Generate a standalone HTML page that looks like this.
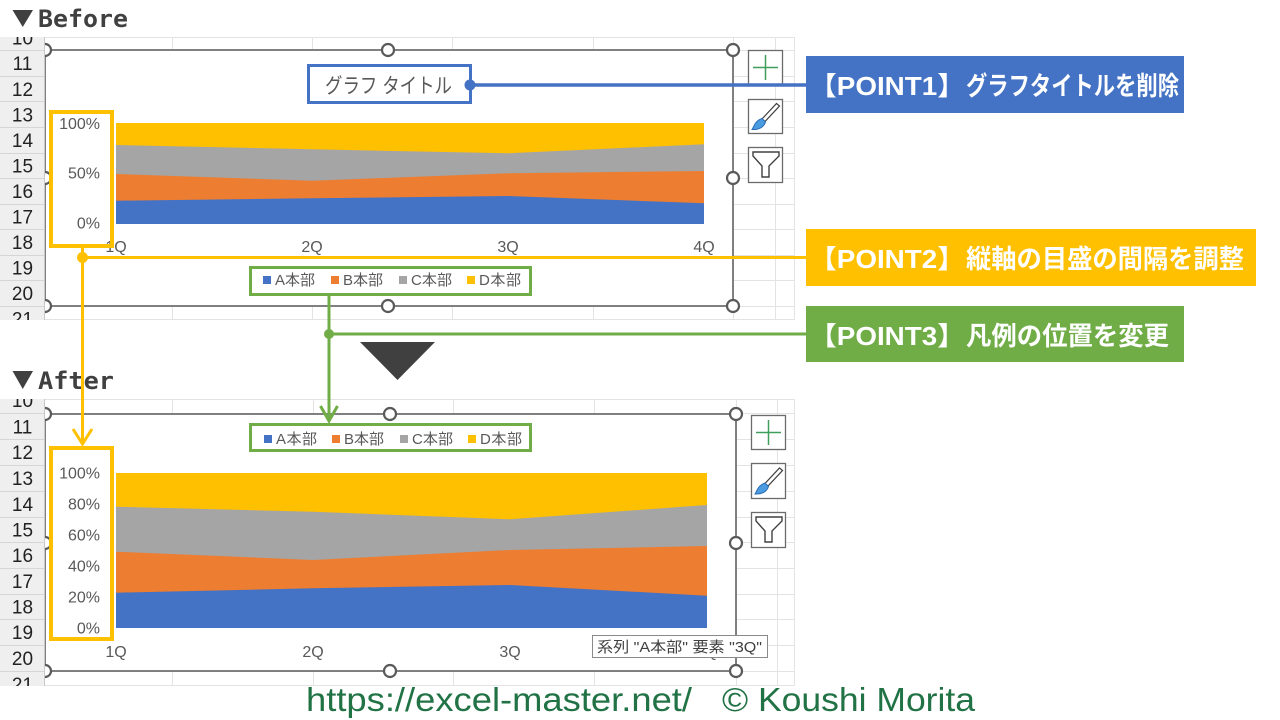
<!DOCTYPE html>
<html><head><meta charset="utf-8">
<style>
html,body{margin:0;padding:0;background:#fff;}
svg{display:block;}
.rn{font-family:"Liberation Sans","Noto Sans CJK JP",sans-serif;font-size:19px;fill:#222;text-anchor:middle;}
.ax{font-family:"Liberation Sans","Noto Sans CJK JP",sans-serif;font-size:16px;fill:#595959;}
.lg{font-family:"Liberation Sans","Noto Sans CJK JP",sans-serif;font-size:15px;fill:#595959;}
.pt{font-family:"Liberation Sans","Noto Sans CJK JP",sans-serif;font-size:26px;font-weight:bold;fill:#fff;}
.hd{font-family:"DejaVu Sans Mono","Liberation Mono",monospace;font-size:24px;font-weight:bold;fill:#404040;}
</style></head><body>
<svg width="1280" height="720" viewBox="0 0 1280 720" xmlns="http://www.w3.org/2000/svg">
<defs>
<clipPath id="cb"><rect x="0" y="37" width="796" height="283"/></clipPath>
<clipPath id="ca"><rect x="0" y="399" width="796" height="287"/></clipPath>
</defs>
<rect width="1280" height="720" fill="#fff"/>

<!-- Headers -->
<polygon points="12.5,10 33,10 22.75,27" fill="#404040"/>
<text class="hd" x="38" y="27" textLength="90" lengthAdjust="spacingAndGlyphs">Before</text>
<polygon points="12.5,371 33,371 22.75,389" fill="#404040"/>
<text class="hd" x="38" y="389" textLength="76" lengthAdjust="spacingAndGlyphs">After</text>
<polygon points="360,342 435,342 397.5,380" fill="#404040"/>

<!-- ===== BEFORE SHEET ===== -->
<g clip-path="url(#cb)">
<rect x="0" y="37" width="796" height="283" fill="#fff"/>
<g stroke="#e3e3e3" stroke-width="1">
<line x1="45" y1="50.5" x2="795" y2="50.5"/><line x1="45" y1="76.5" x2="795" y2="76.5"/>
<line x1="45" y1="101.5" x2="795" y2="101.5"/><line x1="45" y1="127.5" x2="795" y2="127.5"/>
<line x1="45" y1="153.5" x2="795" y2="153.5"/><line x1="45" y1="178.5" x2="795" y2="178.5"/>
<line x1="45" y1="204.5" x2="795" y2="204.5"/><line x1="45" y1="229.5" x2="795" y2="229.5"/>
<line x1="45" y1="255.5" x2="795" y2="255.5"/><line x1="45" y1="280.5" x2="795" y2="280.5"/>
<line x1="45" y1="306.5" x2="795" y2="306.5"/>
<line x1="172.5" y1="37" x2="172.5" y2="320"/><line x1="312.5" y1="37" x2="312.5" y2="320"/>
<line x1="452.5" y1="37" x2="452.5" y2="320"/><line x1="593.5" y1="37" x2="593.5" y2="320"/>
<line x1="733.5" y1="37" x2="733.5" y2="320"/><line x1="775.5" y1="37" x2="775.5" y2="320"/>
<line x1="794.5" y1="37" x2="794.5" y2="320"/>
<line x1="0" y1="37.5" x2="795" y2="37.5"/><line x1="0" y1="319.5" x2="795" y2="319.5"/>
</g>
<!-- chart -->
<rect x="45" y="50" width="688" height="256" fill="#fff" stroke="#737373" stroke-width="1.8"/>
<rect x="116" y="123" width="588" height="101" fill="#ffc000"/>
<polygon points="116,145 312,149.3 508,153.3 704,144.3 704,224 116,224" fill="#a5a5a5"/>
<polygon points="116,174 312,180.7 508,173.3 704,171 704,224 116,224" fill="#ed7d31"/>
<polygon points="116,200.7 312,198.3 508,196 704,203.3 704,224 116,224" fill="#4472c4"/>
<text class="ax" x="100" y="129" text-anchor="end">100%</text>
<text class="ax" x="100" y="178.5" text-anchor="end">50%</text>
<text class="ax" x="100" y="228.5" text-anchor="end">0%</text>
<text class="ax" x="116" y="252" text-anchor="middle">1Q</text>
<text class="ax" x="312" y="252" text-anchor="middle">2Q</text>
<text class="ax" x="508" y="252" text-anchor="middle">3Q</text>
<text class="ax" x="704" y="252" text-anchor="middle">4Q</text>
<text x="325" y="93" textLength="127" lengthAdjust="spacingAndGlyphs" style="font-family:'Liberation Sans','Noto Sans CJK JP',sans-serif;font-size:21px;fill:#595959;white-space:pre;">グラフ タイトル</text>
<!-- legend -->
<rect x="263" y="276" width="8" height="8" fill="#4472c4"/><text class="lg" x="275" y="285" textLength="40">A本部</text>
<rect x="331" y="276" width="8" height="8" fill="#ed7d31"/><text class="lg" x="343" y="285" textLength="40">B本部</text>
<rect x="399" y="276" width="8" height="8" fill="#a5a5a5"/><text class="lg" x="411" y="285" textLength="41">C本部</text>
<rect x="467" y="276" width="8" height="8" fill="#ffc000"/><text class="lg" x="479" y="285" textLength="42">D本部</text>
<!-- handles -->
<g fill="#fff" stroke="#5a5a5a" stroke-width="2.2">
<circle cx="45" cy="50" r="6"/><circle cx="388" cy="50" r="6"/><circle cx="733" cy="50" r="6"/>
<circle cx="733" cy="178" r="6"/><circle cx="733" cy="306" r="6"/><circle cx="388" cy="306" r="6"/>
<circle cx="45" cy="306" r="6"/><circle cx="45" cy="178" r="6"/>
</g>
<!-- icons -->
<g fill="#fff" stroke="#6b6b6b" stroke-width="1.3">
<rect x="748.5" y="50.5" width="34" height="34"/>
<rect x="748.5" y="99.5" width="34" height="34"/>
<rect x="748.5" y="147.5" width="34" height="35"/>
</g>
<g stroke="#3f9f5a" stroke-width="1.5"><line x1="753" y1="67.5" x2="778" y2="67.5"/><line x1="765.5" y1="55" x2="765.5" y2="80"/></g>
<path d="M776.5,103.5 L779.5,106 L765,121.5 L762,119 Z" fill="#fff" stroke="#404040" stroke-width="1.2"/>
<path d="M762,118.5 L765.5,122 C764,127 759,130 752,129.5 C754,127 754.5,121 762,118.5 Z" fill="#4a9be0" stroke="#2a6db5" stroke-width="1"/>
<path d="M753,152 L779,152 L779,156 L769,166 L769,177 L762,177 L762,166 L753,156 Z" fill="#fff" stroke="#404040" stroke-width="1.4"/>
<!-- row header -->
<rect x="0" y="37" width="44.5" height="283" fill="#efefef"/>
<line x1="44.5" y1="37" x2="44.5" y2="320" stroke="#c8c8c8"/>
<g stroke="#d6d6d6" stroke-width="1">
<line x1="0" y1="50.5" x2="44" y2="50.5"/><line x1="0" y1="76.5" x2="44" y2="76.5"/>
<line x1="0" y1="101.5" x2="44" y2="101.5"/><line x1="0" y1="127.5" x2="44" y2="127.5"/>
<line x1="0" y1="153.5" x2="44" y2="153.5"/><line x1="0" y1="178.5" x2="44" y2="178.5"/>
<line x1="0" y1="204.5" x2="44" y2="204.5"/><line x1="0" y1="229.5" x2="44" y2="229.5"/>
<line x1="0" y1="255.5" x2="44" y2="255.5"/><line x1="0" y1="280.5" x2="44" y2="280.5"/>
<line x1="0" y1="306.5" x2="44" y2="306.5"/>
</g>
<text class="rn" x="22.5" y="44.3">10</text><text class="rn" x="22.5" y="70">11</text>
<text class="rn" x="22.5" y="96">12</text><text class="rn" x="22.5" y="121.4">13</text>
<text class="rn" x="22.5" y="147">14</text><text class="rn" x="22.5" y="172.5">15</text>
<text class="rn" x="22.5" y="198">16</text><text class="rn" x="22.5" y="223.5">17</text>
<text class="rn" x="22.5" y="249">18</text><text class="rn" x="22.5" y="274.5">19</text>
<text class="rn" x="22.5" y="300">20</text><text class="rn" x="22.5" y="325.5">21</text>
</g>

<!-- ===== AFTER SHEET ===== -->
<g clip-path="url(#ca)">
<rect x="0" y="399" width="796" height="287" fill="#fff"/>
<g stroke="#e3e3e3" stroke-width="1">
<line x1="45" y1="413.5" x2="795" y2="413.5"/><line x1="45" y1="439.5" x2="795" y2="439.5"/>
<line x1="45" y1="465.5" x2="795" y2="465.5"/><line x1="45" y1="491.5" x2="795" y2="491.5"/>
<line x1="45" y1="517.5" x2="795" y2="517.5"/><line x1="45" y1="542.5" x2="795" y2="542.5"/>
<line x1="45" y1="568.5" x2="795" y2="568.5"/><line x1="45" y1="594.5" x2="795" y2="594.5"/>
<line x1="45" y1="619.5" x2="795" y2="619.5"/><line x1="45" y1="645.5" x2="795" y2="645.5"/>
<line x1="45" y1="671.5" x2="795" y2="671.5"/>
<line x1="172.5" y1="399" x2="172.5" y2="686"/><line x1="313.5" y1="399" x2="313.5" y2="686"/>
<line x1="453.5" y1="399" x2="453.5" y2="686"/><line x1="594.5" y1="399" x2="594.5" y2="686"/>
<line x1="736.5" y1="399" x2="736.5" y2="686"/><line x1="777.5" y1="399" x2="777.5" y2="686"/>
<line x1="794.5" y1="399" x2="794.5" y2="686"/>
<line x1="0" y1="399.5" x2="795" y2="399.5"/><line x1="0" y1="685.5" x2="795" y2="685.5"/>
</g>
<rect x="45" y="414" width="691" height="257" fill="#fff" stroke="#737373" stroke-width="1.8"/>
<rect x="116" y="473" width="591" height="155" fill="#ffc000"/>
<polygon points="116,506.7 313,511.7 510,519.3 707,505 707,628 116,628" fill="#a5a5a5"/>
<polygon points="116,551.7 313,560 510,550 707,546 707,628 116,628" fill="#ed7d31"/>
<polygon points="116,592.7 313,588.3 510,585 707,595.7 707,628 116,628" fill="#4472c4"/>
<text class="ax" x="100" y="478.5" text-anchor="end">100%</text>
<text class="ax" x="100" y="509.5" text-anchor="end">80%</text>
<text class="ax" x="100" y="540.5" text-anchor="end">60%</text>
<text class="ax" x="100" y="571.5" text-anchor="end">40%</text>
<text class="ax" x="100" y="602.5" text-anchor="end">20%</text>
<text class="ax" x="100" y="633.5" text-anchor="end">0%</text>
<text class="ax" x="116" y="657" text-anchor="middle">1Q</text>
<text class="ax" x="313" y="657" text-anchor="middle">2Q</text>
<text class="ax" x="510" y="657" text-anchor="middle">3Q</text>
<text class="ax" x="707" y="657" text-anchor="middle">4Q</text>
<rect x="264" y="435" width="8" height="8" fill="#4472c4"/><text class="lg" x="276" y="444" textLength="41">A本部</text>
<rect x="332" y="435" width="8" height="8" fill="#ed7d31"/><text class="lg" x="344" y="444" textLength="40">B本部</text>
<rect x="400" y="435" width="8" height="8" fill="#a5a5a5"/><text class="lg" x="412" y="444" textLength="41">C本部</text>
<rect x="468" y="435" width="8" height="8" fill="#ffc000"/><text class="lg" x="480" y="444" textLength="42">D本部</text>
<!-- tooltip -->
<rect x="592.5" y="635.5" width="175" height="22" fill="#fff" stroke="#8a8a8a" stroke-width="1"/>
<text x="597" y="652" textLength="165" lengthAdjust="spacingAndGlyphs" style="font-family:'Liberation Sans','Noto Sans CJK JP',sans-serif;font-size:15px;fill:#404040;white-space:pre;">系列 "A本部" 要素 "3Q"</text>
<g fill="#fff" stroke="#5a5a5a" stroke-width="2.2">
<circle cx="45" cy="414" r="6"/><circle cx="390" cy="414" r="6"/><circle cx="736" cy="414" r="6"/>
<circle cx="736" cy="543" r="6"/><circle cx="736" cy="671" r="6"/><circle cx="390" cy="671" r="6"/>
<circle cx="45" cy="671" r="6"/><circle cx="45" cy="543" r="6"/>
</g>
<g fill="#fff" stroke="#6b6b6b" stroke-width="1.3">
<rect x="751.5" y="415.5" width="34" height="34"/>
<rect x="751.5" y="463.5" width="34" height="35"/>
<rect x="751.5" y="512.5" width="34" height="35"/>
</g>
<g stroke="#3f9f5a" stroke-width="1.5"><line x1="756" y1="432.5" x2="781" y2="432.5"/><line x1="768.5" y1="420" x2="768.5" y2="445"/></g>
<path d="M779.5,468 L782.5,470.5 L768,486 L765,483.5 Z" fill="#fff" stroke="#404040" stroke-width="1.2"/>
<path d="M765,483 L768.5,486.5 C767,491.5 762,494.5 755,494 C757,491.5 757.5,485.5 765,483 Z" fill="#4a9be0" stroke="#2a6db5" stroke-width="1"/>
<path d="M756,517 L782,517 L782,521 L772,531 L772,542 L765,542 L765,531 L756,521 Z" fill="#fff" stroke="#404040" stroke-width="1.4"/>
<rect x="0" y="399" width="44.5" height="287" fill="#efefef"/>
<line x1="44.5" y1="399" x2="44.5" y2="686" stroke="#c8c8c8"/>
<g stroke="#d6d6d6" stroke-width="1">
<line x1="0" y1="413.5" x2="44" y2="413.5"/><line x1="0" y1="439.5" x2="44" y2="439.5"/>
<line x1="0" y1="465.5" x2="44" y2="465.5"/><line x1="0" y1="491.5" x2="44" y2="491.5"/>
<line x1="0" y1="517.5" x2="44" y2="517.5"/><line x1="0" y1="542.5" x2="44" y2="542.5"/>
<line x1="0" y1="568.5" x2="44" y2="568.5"/><line x1="0" y1="594.5" x2="44" y2="594.5"/>
<line x1="0" y1="619.5" x2="44" y2="619.5"/><line x1="0" y1="645.5" x2="44" y2="645.5"/>
<line x1="0" y1="671.5" x2="44" y2="671.5"/>
</g>
<text class="rn" x="22.5" y="407">10</text><text class="rn" x="22.5" y="433.5">11</text>
<text class="rn" x="22.5" y="459">12</text><text class="rn" x="22.5" y="485">13</text>
<text class="rn" x="22.5" y="511">14</text><text class="rn" x="22.5" y="536.5">15</text>
<text class="rn" x="22.5" y="562">16</text><text class="rn" x="22.5" y="588">17</text>
<text class="rn" x="22.5" y="613.5">18</text><text class="rn" x="22.5" y="639">19</text>
<text class="rn" x="22.5" y="665">20</text><text class="rn" x="22.5" y="691">21</text>
</g>

<!-- highlight boxes -->
<rect x="308.5" y="65.5" width="162" height="37" fill="none" stroke="#4472c4" stroke-width="3"/>
<rect x="51" y="112" width="61" height="134" fill="none" stroke="#ffc000" stroke-width="4"/>
<rect x="250.5" y="267.5" width="280" height="27" fill="none" stroke="#70ad47" stroke-width="3"/>
<rect x="51" y="448" width="61" height="191" fill="none" stroke="#ffc000" stroke-width="4"/>
<rect x="250.5" y="424.5" width="280" height="26" fill="none" stroke="#70ad47" stroke-width="3"/>

<!-- connectors -->
<line x1="470" y1="85" x2="806" y2="85" stroke="#4472c4" stroke-width="3.5"/>
<circle cx="470" cy="85" r="5.5" fill="#4472c4"/>
<line x1="82.5" y1="257.5" x2="806" y2="257.5" stroke="#ffc000" stroke-width="3"/>
<line x1="82.5" y1="248" x2="82.5" y2="443" stroke="#ffc000" stroke-width="3"/>
<polyline points="73,429 82.5,444 92,429" fill="none" stroke="#ffc000" stroke-width="3"/>
<circle cx="82.5" cy="257.5" r="5.5" fill="#ffc000"/>
<line x1="329" y1="296" x2="329" y2="420" stroke="#70ad47" stroke-width="3"/>
<line x1="329" y1="334" x2="806" y2="334" stroke="#70ad47" stroke-width="3"/>
<polyline points="320.5,406 329,421 337.5,406" fill="none" stroke="#70ad47" stroke-width="3"/>
<circle cx="329" cy="334" r="5" fill="#70ad47"/>

<!-- POINT labels -->
<rect x="806" y="56" width="378" height="57" fill="#4472c4"/>
<text class="pt" x="809" y="95" textLength="156" lengthAdjust="spacingAndGlyphs">【POINT1】</text>
<text class="pt" x="966" y="95" textLength="213" lengthAdjust="spacingAndGlyphs">グラフタイトルを削除</text>
<rect x="806" y="229" width="450" height="57" fill="#ffc000"/>
<text class="pt" x="809" y="268" textLength="156" lengthAdjust="spacingAndGlyphs">【POINT2】</text>
<text class="pt" x="966" y="268" textLength="278" lengthAdjust="spacingAndGlyphs">縦軸の目盛の間隔を調整</text>
<rect x="806" y="306" width="378" height="56" fill="#70ad47"/>
<text class="pt" x="809" y="345" textLength="156" lengthAdjust="spacingAndGlyphs">【POINT3】</text>
<text class="pt" x="966" y="345" textLength="203" lengthAdjust="spacingAndGlyphs">凡例の位置を変更</text>

<!-- footer -->
<text x="306" y="711" textLength="386" lengthAdjust="spacingAndGlyphs" style="font-family:'Liberation Sans',sans-serif;font-size:33px;fill:#217346;">https://excel-master.net/</text>
<text x="722" y="711" textLength="253" lengthAdjust="spacingAndGlyphs" style="font-family:'Liberation Sans',sans-serif;font-size:33px;fill:#217346;">© Koushi Morita</text>
</svg>
</body></html>
